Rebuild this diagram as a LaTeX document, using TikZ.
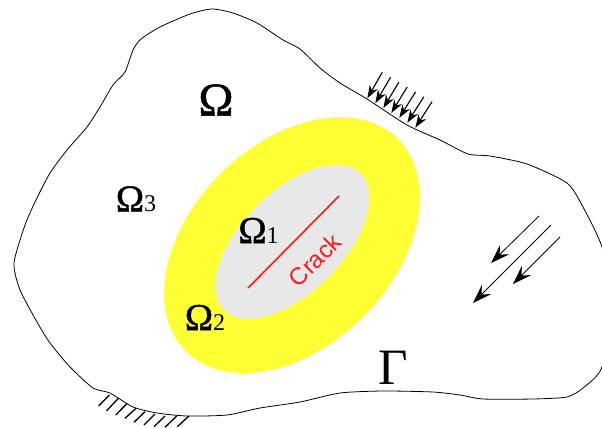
\documentclass[tikz,border=0pt]{standalone}
\usepackage{fontspec}
\setmainfont{Liberation Serif}
\newfontfamily\cracksans{Liberation Sans}
\newfontfamily\omegafont[FakeBold=1.2]{Liberation Serif}
\usetikzlibrary{arrows.meta}
\definecolor{ZoneYellow}{HTML}{FFFF33}
\definecolor{ZoneGray}{HTML}{E8E8E8}
\definecolor{CrackRed}{HTML}{FF1A1A}
\begin{document}
\begin{tikzpicture}[x=1pt,y=-1pt]
      \tikzstyle{boundary}=[draw=black,line width=.8pt]
      \tikzstyle{hatch}=[draw=black,line width=1.3pt]
      \tikzstyle{topload}=[-{Stealth[length=13pt,width=9pt,inset=4pt]},draw=black,line width=1.1pt]
      \tikzstyle{sideload}=[-{Stealth[length=19pt,width=13pt,inset=7pt]},draw=black,line width=.8pt]
      \tikzstyle{omegasmall}=[inner sep=0pt,font=\fontsize{38}{38}\selectfont]
      \newcommand{\omegaidx}[1]{{\omegafont Ω}\fontsize{24}{24}\selectfont #1}
      \clip (0,0) rectangle (602,428);
      % zones
      \fill[ZoneYellow,rotate around={45:(292,245)}] (292,245) ellipse (150 and 101);
      \fill[ZoneGray,rotate around={45:(292.5,241.5)}] (292.5,241.5) ellipse (96.5 and 50.4);
      % outer boundary
      \draw[boundary] plot[smooth cycle,tension=.4] coordinates {(36,200) (50,173) (67,150) (87,127) (100,107) (113,85) (125,72) (133,50) (141,39) (160,27) (190,14) (212,9) (233,13) (257,23) (283,40) (300,49) (320,68) (340,83) (367,99) (407,125) (440,140) (468,154) (490,156) (527,164) (567,183) (583,207) (602,247) (612,300) (602,367) (583,388) (567,397) (533,399) (483,399) (460,395) (433,392) (383,391) (340,393) (300,402) (260,408) (227,415) (187,416) (157,413) (133,407) (110,393) (93,388) (70,367) (50,343) (37,322) (20,290) (14,263) (25,225)};
      % fixed part
      \foreach \xa/\ya/\xb/\yb in {109.3/395/98.7/406,118.3/398.3/106.7/410.7,127.3/403.3/115.7/415,136/408.3/125/418.3,145/411.7/134/422.3,155/414/144/425,165/416/154/426.7,176.7/416/165/427.3,189/416/177.3/426.7}
        \draw[hatch] (\xa,\ya) -- (\xb,\yb);
      % loads
      \foreach \i in {0,...,6}
        \draw[topload] ({382.3+8.3*\i},{72.3+4.9*\i}) -- ({367.3+8.0*\i},{98.3+4.9*\i});
      \draw[sideload] (539,216) -- (491,263);
      \draw[sideload] (551,225) -- (473,303);
      \draw[sideload] (560,237) -- (513,284);
      % crack
      \draw[CrackRed,line width=1.6pt] (248,288) -- (339,196);
      \node[CrackRed,rotate=45,inner sep=0pt,font=\cracksans\fontsize{24}{24}\selectfont] (crack) at (315,260) {Crack};
      % labels
      \node[inner sep=0pt,font=\omegafont\fontsize{47}{47}\selectfont] (omega) at (216,100) {Ω};
      \node[omegasmall] (omegaone) at (258.5,230.5) {\omegaidx{1}};
      \node[omegasmall] (omegatwo) at (205,317.5) {\omegaidx{2}};
      \node[omegasmall] (omegathree) at (136,199) {\omegaidx{3}};
      \node[inner sep=0pt,font=\fontsize{51}{51}\selectfont] (gamma) at (393,367.5) {Γ};
    \end{tikzpicture}
\end{document}
